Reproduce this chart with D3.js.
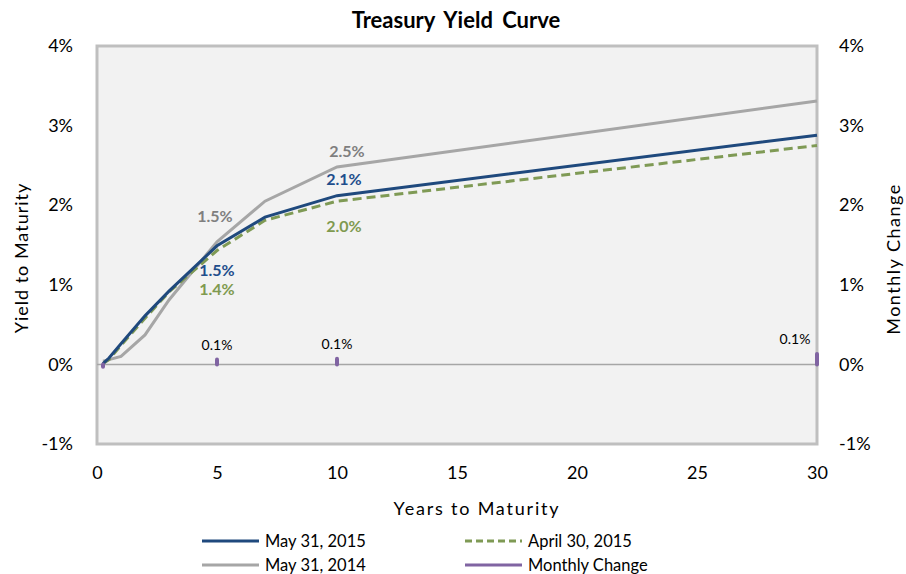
<!DOCTYPE html>
<html>
<head>
<meta charset="utf-8">
<script src="https://cdn.jsdelivr.net/npm/d3@7"></script>
<style>
  body { margin: 0; background: #fff; }
  svg text { font-family: Lato, "Open Sans", sans-serif; }
</style>
</head>
<body>
<div id="chart"></div>
<script>
// maturities in years
const maturities = [0.25, 0.5, 1, 2, 3, 5, 7, 10, 30];
const may2015 = [0.01, 0.08, 0.26, 0.61, 0.92, 1.49, 1.85, 2.12, 2.88];
const apr2015 = [0.01, 0.06, 0.24, 0.58, 0.91, 1.43, 1.81, 2.05, 2.75];
const may2014 = [0.04, 0.06, 0.10, 0.37, 0.81, 1.54, 2.05, 2.48, 3.31];
const changeYears = [0.25, 5, 10, 30];
const changeValues = [-0.03, 0.06, 0.07, 0.13];
const yTicks = [-1, 0, 1, 2, 3, 4];
const xTicks = [0, 5, 10, 15, 20, 25, 30];

const W = 906, H = 574;
const margin = {top: 46, right: 89, bottom: 130, left: 97};
const width = W - margin.left - margin.right;
const height = H - margin.top - margin.bottom;

const svg = d3.select("#chart").append("svg")
    .attr("width", W)
    .attr("height", H);

const g = svg.append("g")
    .attr("transform", `translate(${margin.left},${margin.top})`);

const x = d3.scaleLinear().domain([0, 30]).range([0, width]);
const y = d3.scaleLinear().domain([-1, 4]).range([height, 0]);

// plot background + frame
g.append("rect")
    .attr("width", width)
    .attr("height", height)
    .attr("fill", "#f2f2f2")
    .attr("stroke", "#bfbfbf")
    .attr("stroke-width", 3);

// zero line
g.append("line")
    .attr("x1", 0).attr("x2", width)
    .attr("y1", y(0)).attr("y2", y(0))
    .attr("stroke", "#a6a6a6")
    .attr("stroke-width", 1.5);

// axes (text only, no domain lines)
const fmt = d => d + "%";
const leftAxis = g.append("g")
    .call(d3.axisLeft(y).tickValues(yTicks).tickFormat(fmt).tickSize(0).tickPadding(24));
const rightAxis = g.append("g")
    .attr("transform", `translate(${width},0)`)
    .call(d3.axisRight(y).tickValues(yTicks).tickFormat(fmt).tickSize(0).tickPadding(22));
const bottomAxis = g.append("g")
    .attr("transform", `translate(0,${height})`)
    .call(d3.axisBottom(x).tickValues(xTicks).tickSize(0).tickPadding(22));
[leftAxis, rightAxis, bottomAxis].forEach(a => {
    a.select(".domain").remove();
    a.selectAll("text").style("font-size", "18px").attr("fill", "#000");
});

// lines
const pts = vals => maturities.map((m, i) => [m, vals[i]]);
const line = d3.line().x(d => x(d[0])).y(d => y(d[1]));

const series = [
    {vals: may2014, color: "#a6a6a6", dash: null},
    {vals: apr2015, color: "#7f9a55", dash: "9,5"},
    {vals: may2015, color: "#1f497d", dash: null}
];
series.forEach(s => {
    g.append("path")
        .datum(pts(s.vals))
        .attr("d", line)
        .attr("fill", "none")
        .attr("stroke", s.color)
        .attr("stroke-width", 3)
        .attr("stroke-dasharray", s.dash);
});

// monthly change bars
g.selectAll(".chg")
    .data(changeYears.map((m, i) => [m, changeValues[i]]))
    .enter()
    .append("line")
    .attr("x1", d => x(d[0])).attr("x2", d => x(d[0]))
    .attr("y1", y(0))
    .attr("y2", d => y(d[1]))
    .attr("stroke", "#8064a2")
    .attr("stroke-width", 4)
    .attr("stroke-linecap", "round");

// change labels
const chgLabels = [[5, "0.1%", 0], [10, "0.1%", 0], [30, "0.1%", -22]];
chgLabels.forEach(([m, t, dx]) => {
    const v = changeValues[changeYears.indexOf(m)];
    g.append("text")
        .attr("x", x(m) + dx)
        .attr("y", y(v) - 10)
        .attr("text-anchor", "middle")
        .style("font-size", "14px")
        .attr("fill", "#000")
        .text(t);
});

// data labels
const labels = [
    {m: 5, vals: may2014, t: "1.5%", color: "#7f7f7f", dx: -2, dy: -20},
    {m: 10, vals: may2014, t: "2.5%", color: "#7f7f7f", dx: 10, dy: -10},
    {m: 10, vals: may2015, t: "2.1%", color: "#1f4e8c", dx: 7, dy: -11},
    {m: 5, vals: may2015, t: "1.5%", color: "#1f4e8c", dx: 0, dy: 30},
    {m: 5, vals: apr2015, t: "1.4%", color: "#7f9a4f", dx: 0, dy: 44},
    {m: 10, vals: apr2015, t: "2.0%", color: "#7f9a4f", dx: 7, dy: 31}
];
labels.forEach(l => {
    const v = l.vals[maturities.indexOf(l.m)];
    g.append("text")
        .attr("x", x(l.m) + l.dx)
        .attr("y", y(v) + l.dy)
        .attr("text-anchor", "middle")
        .style("font-size", "16px")
        .style("font-weight", "bold")
        .attr("fill", l.color)
        .text(l.t);
});

// titles
svg.append("text")
    .attr("x", 456).attr("y", 28)
    .attr("text-anchor", "middle")
    .style("font-size", "22px")
    .style("font-weight", "bold")
    .style("word-spacing", "4px")
    .text("Treasury Yield Curve");

svg.append("text")
    .attr("x", 477).attr("y", 515)
    .attr("text-anchor", "middle")
    .style("font-size", "18px")
    .style("letter-spacing", "1.8px")
    .text("Years to Maturity");

svg.append("text")
    .attr("transform", "translate(28,258) rotate(-90)")
    .attr("text-anchor", "middle")
    .style("font-size", "18px")
    .style("letter-spacing", "1px")
    .text("Yield to Maturity");

svg.append("text")
    .attr("transform", "translate(900,259) rotate(-90)")
    .attr("text-anchor", "middle")
    .style("font-size", "18px")
    .style("letter-spacing", "1.5px")
    .text("Monthly Change");

// legend
const legend = [
    {t: "May 31, 2015", color: "#1f497d", dash: null, x: 202, y: 541},
    {t: "April 30, 2015", color: "#7f9a55", dash: "7,4", x: 465, y: 541},
    {t: "May 31, 2014", color: "#a6a6a6", dash: null, x: 202, y: 565},
    {t: "Monthly Change", color: "#8064a2", dash: null, x: 465, y: 565}
];
legend.forEach(l => {
    svg.append("line")
        .attr("x1", l.x).attr("x2", l.x + 57)
        .attr("y1", l.y).attr("y2", l.y)
        .attr("stroke", l.color)
        .attr("stroke-width", 3)
        .attr("stroke-dasharray", l.dash);
    svg.append("text")
        .attr("x", l.x + 63).attr("y", l.y + 6)
        .style("font-size", "16.5px")
        .text(l.t);
});
</script>
</body>
</html>
